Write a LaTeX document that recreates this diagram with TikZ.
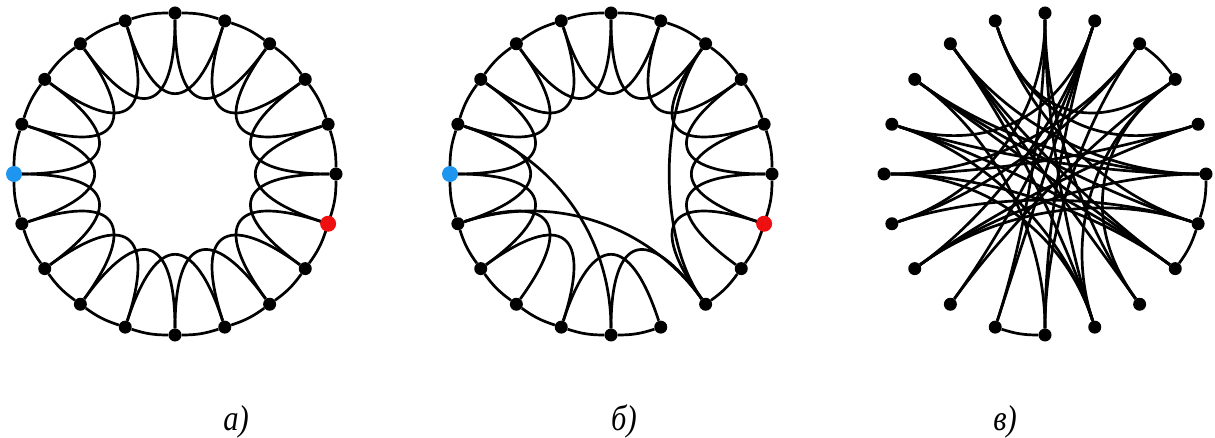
\documentclass[tikz,border=0pt]{standalone}
\usepackage{fontspec}
\setmainfont{Liberation Serif}
\usetikzlibrary{calc}
\pgfdeclarelayer{bg}
\pgfsetlayers{bg,main}
\definecolor{nodeblue}{RGB}{30,150,240}
\definecolor{nodered}{RGB}{238,16,16}
\tikzset{
  dot/.style={circle,fill=black,inner sep=0pt,minimum size=13pt},
  bluedot/.style={dot,fill=nodeblue,minimum size=16pt},
  reddot/.style={dot,fill=nodered,minimum size=16pt},
  ln/.style={line width=2.7pt,black},
  rim/.style={ln,bend right=9},
  lbl/.style={font=\fontsize{36}{40}\selectfont\itshape,inner sep=0pt,xscale=0.85}
}
\newcommand\lobe[3]{\draw[ln] (#1) .. controls ($(#1)!0.62!(#3)$) and ($(#2)!0.62!(#3)$) .. (#2);}
\newcommand\lobef[4]{\draw[ln] (#1) .. controls ($(#1)!#4!(#3)$) and ($(#2)!#4!(#3)$) .. (#2);}
\begin{document}
\begin{tikzpicture}
\useasboundingbox (0pt,0pt) rectangle (1215pt,437pt);
\coordinate (ca) at (175pt,263pt);
\coordinate (cb) at (611pt,263pt);
\coordinate (cc) at (1045pt,263pt);
% nodes
\foreach \p in {a,b,c}{
  \foreach \i in {0,...,19}{
    \node[dot] (\p\i) at ($(c\p)+(\i*18:161pt)$) {};
  }
}
\node[bluedot] at (a10) {};
\node[reddot] at (a19) {};
\node[bluedot] at (b10) {};
\node[reddot] at (b19) {};
\begin{pgfonlayer}{bg}
% panel a: regular ring lattice
\foreach \i in {0,...,19}{
  \pgfmathtruncatemacro\j{mod(\i+1,20)}
  \pgfmathtruncatemacro\k{mod(\i+2,20)}
  \draw[rim] (a\i) to (a\j);
  \lobe{a\i}{a\k}{ca}
}
% panel b: small world
\foreach \i in {0,...,15,17,18,19}{
  \pgfmathtruncatemacro\j{mod(\i+1,20)}
  \draw[rim] (b\i) to (b\j);
}
\foreach \i in {0,...,12,14,15,17,18,19}{
  \pgfmathtruncatemacro\k{mod(\i+2,20)}
  \lobe{b\i}{b\k}{cb}
}
\lobe{b9}{b15}{cb}
\lobe{b11}{b17}{cb}
\lobef{b3}{b17}{cb}{0.5}
% panel c: random
\draw[rim] (c2) to (c3);
\draw[rim] (c18) to (c19);
\draw[rim] (c19) to (c0);
\draw[rim] (c14) to (c15);
\foreach \u/\v in {6/2,6/1,4/9,4/12,4/13,3/10,7/17,8/0,8/18,9/0,11/19,10/1,12/0,12/19,7/16,15/4,15/8,16/2,17/2,7/18,19/8,16/10,15/3,13/2,3/11,18/9,0/7,17/5,10/18,1/12,9/16,5/11,5/14,5/16,6/19,14/4}{
  \lobe{c\u}{c\v}{cc}
}
\end{pgfonlayer}
% labels
\node[lbl,anchor=base] (la) at (236pt,7pt) {а)};
\node[lbl,anchor=base] (lb) at (624pt,7pt) {б)};
\node[lbl,anchor=base] (lc) at (1005pt,7pt) {в)};
\end{tikzpicture}
\end{document}
